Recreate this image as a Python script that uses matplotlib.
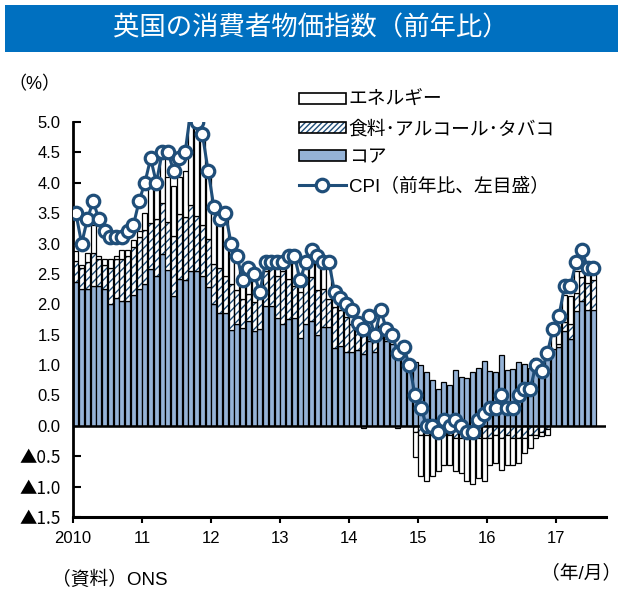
import numpy as np
import matplotlib
matplotlib.use('Agg')
import matplotlib.pyplot as plt
from matplotlib.patches import Patch, Rectangle
from matplotlib.lines import Line2D
from matplotlib.legend_handler import HandlerTuple

plt.rcParams['font.family'] = ['Liberation Sans', 'Noto Sans CJK JP', 'DejaVu Sans']
plt.rcParams['hatch.linewidth'] = 1.0

# CPI, Jan 2010 - Jul 2017 (% y/y)
cpi = [3.5, 3.0, 3.4, 3.7, 3.4, 3.2, 3.1, 3.1, 3.1, 3.2, 3.3, 3.7,
       4.0, 4.4, 4.0, 4.5, 4.5, 4.2, 4.4, 4.5, 5.2, 5.0, 4.8, 4.2,
       3.6, 3.4, 3.5, 3.0, 2.8, 2.4, 2.6, 2.5, 2.2, 2.7, 2.7, 2.7,
       2.7, 2.8, 2.8, 2.4, 2.7, 2.9, 2.8, 2.7, 2.7, 2.2, 2.1, 2.0,
       1.9, 1.7, 1.6, 1.8, 1.5, 1.9, 1.6, 1.5, 1.2, 1.3, 1.0, 0.5,
       0.3, 0.0, 0.0, -0.1, 0.1, 0.0, 0.1, 0.0, -0.1, -0.1, 0.1, 0.2,
       0.3, 0.3, 0.5, 0.3, 0.3, 0.5, 0.6, 0.6, 1.0, 0.9, 1.2, 1.6,
       1.8, 2.3, 2.3, 2.7, 2.9, 2.6, 2.6]

# contributions (percentage points)
core = [2.36, 2.25, 2.25, 2.30, 2.30, 2.25, 2.00, 2.10, 2.05, 2.05, 2.15, 2.25,
        2.33, 2.58, 2.46, 2.82, 2.56, 2.13, 2.41, 2.40, 2.55, 2.55, 2.47, 2.29,
        2.00, 1.85, 1.85, 1.58, 1.67, 1.61, 1.73, 1.56, 1.60, 1.98, 1.98, 1.77,
        1.67, 1.76, 1.78, 1.45, 1.67, 1.73, 1.50, 1.62, 1.62, 1.28, 1.32, 1.22,
        1.22, 1.25, 1.18, 1.40, 1.22, 1.45, 1.40, 1.35, 1.20, 1.15, 0.97, 1.05,
        1.00, 0.88, 0.75, 0.60, 0.72, 0.68, 0.92, 0.80, 0.78, 0.88, 0.96, 1.07,
        0.90, 0.88, 1.16, 0.92, 0.93, 1.05, 1.01, 0.95, 1.12, 0.95, 1.10, 1.26,
        1.30, 1.56, 1.43, 1.89, 2.05, 1.90, 1.90]

food = [0.36, 0.35, 0.45, 0.55, 0.45, 0.40, 0.60, 0.65, 0.70, 0.75, 0.80, 0.85,
        0.90, 0.75, 0.95, 0.85, 0.80, 1.00, 1.08, 1.03, 1.08, 0.91, 0.83, 0.79,
        0.66, 0.75, 0.62, 0.76, 0.56, 0.48, 0.44, 0.47, 0.60, 0.57, 0.62, 0.70,
        0.88, 0.66, 0.52, 0.75, 0.78, 0.72, 0.73, 0.63, 0.47, 0.67, 0.58, 0.57,
        0.45, 0.35, 0.42, 0.20, 0.20, 0.20, 0.10, 0.10, 0.00, 0.05, 0.00, -0.10,
        -0.15, -0.15, -0.15, -0.10, -0.15, -0.15, -0.20, -0.20, -0.15, -0.20, -0.20, -0.20,
        -0.20, -0.15, -0.20, -0.15, -0.20, -0.20, -0.20, -0.15, -0.15, -0.10, -0.05, 0.00,
        0.05, 0.15, 0.25, 0.30, 0.40, 0.45, 0.50]

energy = [0.16, 0.05, 0.15, 0.45, 0.05, 0.10, 0.15, 0.05, 0.15, 0.10, 0.10, 0.10,
          0.27, 0.62, 0.49, 0.83, 0.74, 0.82, 0.61, 0.77, 1.47, 1.51, 1.48, 1.12,
          0.91, 0.83, 0.99, 0.74, 0.52, 0.27, 0.38, 0.42, 0.05, 0.17, 0.10, 0.23,
          0.15, 0.38, 0.50, 0.20, 0.25, 0.45, 0.57, 0.45, 0.61, 0.25, 0.20, 0.21,
          0.23, 0.10, -0.03, 0.20, 0.08, 0.25, 0.10, 0.05, -0.03, 0.10, 0.03, -0.42,
          -0.68, -0.76, -0.68, -0.64, -0.49, -0.49, -0.54, -0.57, -0.76, -0.76, -0.65, -0.71,
          -0.44, -0.46, -0.52, -0.49, -0.44, -0.41, -0.25, -0.21, -0.05, -0.07, -0.10, 0.25,
          0.40, 0.45, 0.45, 0.35, 0.10, 0.15, 0.15]

year_labels = ['2010', '11', '12', '13', '14', '15', '16', '17']
ytick_values = [-1.5, -1.0, -0.5, 0.0, 0.5, 1.0, 1.5, 2.0, 2.5, 3.0, 3.5, 4.0, 4.5, 5.0]
ytick_labels = ['▲1.5', '▲1.0', '▲0.5', '0.0', '0.5', '1.0', '1.5', '2.0',
                '2.5', '3.0', '3.5', '4.0', '4.5', '5.0']
legend_labels = ['エネルギー', '食料･アルコール･タバコ', 'コア', 'CPI（前年比、左目盛）']

W, H = 623, 590
fig = plt.figure(figsize=(W / 100, H / 100), dpi=100)
ax = fig.add_axes([73 / W, 1 - 517 / H, (606 - 73) / W, (517 - 122) / H])

BLUE = '#95B3D7'
NAVY = '#1F4E79'
bw = 0.84
lw = 0.9

core_a = np.array(core)
food_a = np.array(food)
en_a = np.array(energy)
n = len(cpi)
x = np.arange(n) + 0.5

pf = np.where(food_a > 0, food_a, 0.0)
nf = np.where(food_a < 0, food_a, 0.0)
pe = np.where(en_a > 0, en_a, 0.0)
ne = np.where(en_a < 0, en_a, 0.0)


def draw(height, bottom, kind):
    m = height != 0
    if not m.any():
        return
    xs, hs, bs = x[m], height[m], bottom[m]
    if kind == 'core':
        ax.bar(xs, hs, bw, bottom=bs, color=BLUE, edgecolor='black', linewidth=lw, zorder=2)
    elif kind == 'food':
        ax.bar(xs, hs, bw, bottom=bs, facecolor='white', edgecolor=NAVY, hatch='////',
               linewidth=0, zorder=2)
        ax.bar(xs, hs, bw, bottom=bs, facecolor='none', edgecolor='black', linewidth=lw, zorder=2)
    else:
        ax.bar(xs, hs, bw, bottom=bs, facecolor='white', edgecolor='black', linewidth=lw, zorder=2)


draw(core_a, np.zeros(n), 'core')
draw(pf, core_a, 'food')
draw(pe, core_a + pf, 'energy')
draw(nf, np.zeros(n), 'food')
draw(ne, nf, 'energy')

ax.axhline(0, color='black', lw=1.8, zorder=3)
ax.plot(x, cpi, color=NAVY, lw=2.2, marker='o', ms=9, mfc='white', mec=NAVY, mew=2.3,
        zorder=5)

ax.set_xlim(0, 92.7)
ax.set_ylim(-1.5, 5.0)
ax.set_yticks(ytick_values)
ax.set_yticklabels(ytick_labels)
ax.set_xticks(np.arange(len(year_labels)) * 12)
ax.set_xticklabels(year_labels)
ax.tick_params(axis='y', direction='in', length=6, width=1.5, labelsize=12, pad=9)
ax.tick_params(axis='x', direction='out', length=4, width=1.5, labelsize=12, pad=6)
for lab in ax.get_yticklabels():
    if lab.get_text().startswith('▲'):
        lab.set_family(['Noto Sans CJK JP', 'DejaVu Sans'])
        lab.set_fontsize(12.5)
for s in ['top', 'right']:
    ax.spines[s].set_visible(False)
ax.spines['left'].set_linewidth(2)
ax.spines['bottom'].set_linewidth(2.2)

# title banner
fig.patches.append(Rectangle((5 / W, 1 - 52 / H), 613 / W, 47 / H, transform=fig.transFigure,
                             facecolor='#0070C0', edgecolor='none'))
fig.text(311 / W, 1 - 28 / H, '英国の消費者物価指数（前年比）', color='white', fontsize=19,
         ha='center', va='center', family=['Noto Sans CJK JP', 'DejaVu Sans'])

fig.text(8 / W, 1 - 85 / H, '（%）', fontsize=13, ha='left', va='center')
fig.text(52 / W, 1 - 580 / H, '（資料）ONS', fontsize=13.5, ha='left', va='center')
fig.text(541 / W, 1 - 573 / H, '（年/月）', fontsize=13.5, ha='left', va='center')

# legend
h_en = Patch(facecolor='white', edgecolor='black', linewidth=1.2)
h_food = (Patch(facecolor='white', edgecolor=NAVY, hatch='//////', linewidth=0),
          Patch(facecolor='none', edgecolor='black', linewidth=1.2))
h_core = Patch(facecolor=BLUE, edgecolor='black', linewidth=1.2)
h_cpi = Line2D([], [], color=NAVY, lw=2.2, marker='o', ms=9, mfc='white', mec=NAVY, mew=2.3)
fig.legend([h_en, h_food, h_core, h_cpi], legend_labels, loc='upper left',
           bbox_to_anchor=(299 / W, 1 - 92 / H), frameon=False, fontsize=13.5,
           handlelength=2.5, handleheight=0.55, labelspacing=0.6, handletextpad=0.15,
           borderpad=0, borderaxespad=0,
           handler_map={tuple: HandlerTuple(ndivide=1)})

fig.savefig('out.png', dpi=100)
